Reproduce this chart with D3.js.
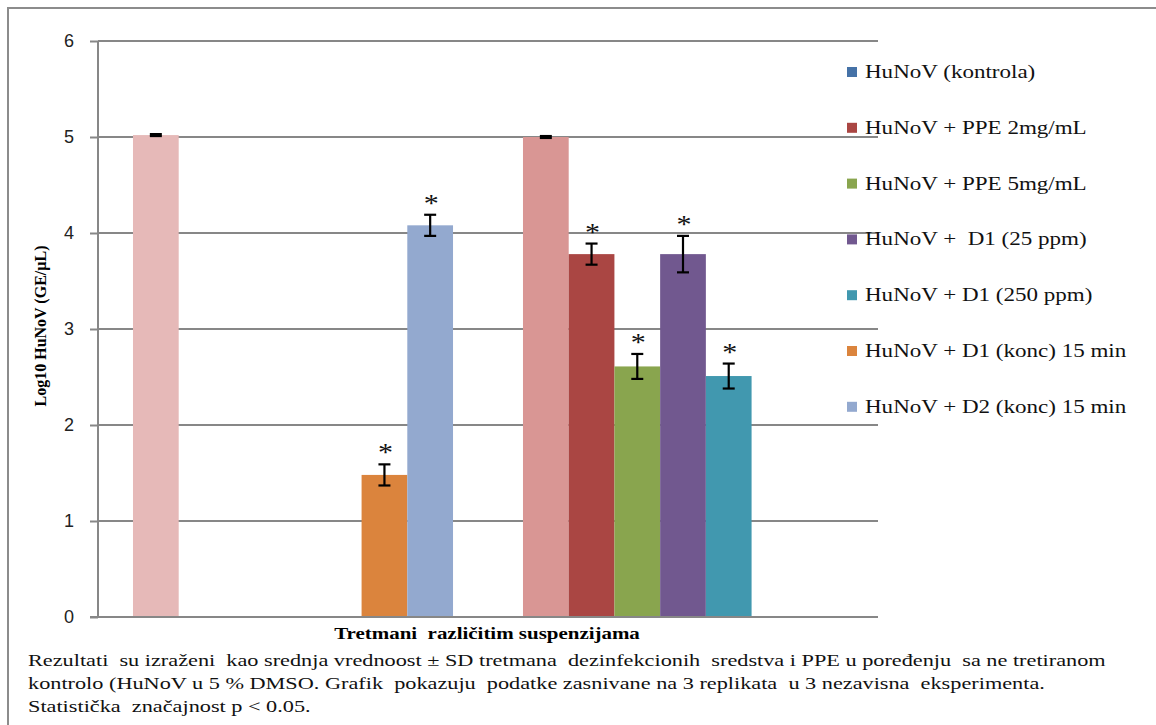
<!DOCTYPE html>
<html>
<head>
<meta charset="utf-8">
<script src="https://cdn.jsdelivr.net/npm/d3@7"></script>
<style>
  body { margin: 0; background: #fff; }
  svg { display: block; }
</style>
</head>
<body>
<div id="chart"></div>
<script>
// Log10 HuNoV by treatment, two clusters of 7 series (Excel-style clustered bars)

const categories = ["grupa 1", "grupa 2"];
const seriesNames = [
    "HuNoV (kontrola)",
    "HuNoV + PPE 2mg/mL",
    "HuNoV + PPE 5mg/mL",
    "HuNoV +  D1 (25 ppm)",
    "HuNoV + D1 (250 ppm)",
    "HuNoV + D1 (konc) 15 min",
    "HuNoV + D2 (konc) 15 min"
];
// values per series, one per category (null = no bar)
const means = [
    [5.02, 5.00],
    [null, 3.78],
    [null, 2.61],
    [null, 3.78],
    [null, 2.51],
    [1.48, null],
    [4.08, null]
];
const sds = [
    [0.01, 0.01],
    [null, 0.11],
    [null, 0.13],
    [null, 0.19],
    [null, 0.13],
    [0.11, null],
    [0.11, null]
];
const significant = [
    [false, false],
    [false, true],
    [false, true],
    [false, true],
    [false, true],
    [true, false],
    [true, false]
];
const yTicks = [0, 1, 2, 3, 4, 5, 6];

const yTitle = "Log10 HuNoV (GE/µL)";
const xTitle = "Tretmani  različitim suspenzijama";
const notes = [
    "Rezultati  su izraženi  kao srednja vrednoost ± SD tretmana  dezinfekcionih  sredstva i PPE u poređenju  sa ne tretiranom",
    "kontrolo (HuNoV u 5 % DMSO. Grafik  pokazuju  podatke zasnivane na 3 replikata  u 3 nezavisna  eksperimenta.",
    "Statistička  značajnost p < 0.05."
];

const legendColors = ["#4572A7", "#AA4643", "#89A54E", "#71588F", "#4198AF", "#DB843D", "#93A9CF"];
const controlColors = ["#E6B9B8", "#D99694"]; // control bars recoloured per cluster

const W = 1156, H = 725;
const plot = {left: 98, right: 878, top: 41, bottom: 617};
const serif = "'Liberation Serif', 'Times New Roman', serif";
const stretch = 1.31; // the source picture is widened horizontally

const svg = d3.select("#chart")
    .append("svg")
    .attr("width", W)
    .attr("height", H);

// outer frame (top + left edge only visible)
svg.append("path")
    .attr("d", `M8,${H} L8,8 L${W},8`)
    .attr("fill", "none")
    .attr("stroke", "#8c8c8c")
    .attr("stroke-width", 2);

// Scales
const x0 = d3.scaleBand()
    .domain(categories)
    .range([plot.left, plot.right]);

const x1 = d3.scaleBand()
    .domain(seriesNames)
    .range([0, x0.bandwidth()])
    .paddingInner(0)
    .paddingOuter(0.765);

const y = d3.scaleLinear()
    .domain([0, 6])
    .range([plot.bottom, plot.top]);

// Gridlines
svg.append("g")
    .selectAll("line")
    .data(yTicks.filter(t => t > 0))
    .enter()
    .append("line")
    .attr("x1", plot.left)
    .attr("x2", plot.right)
    .attr("y1", d => y(d))
    .attr("y2", d => y(d))
    .attr("stroke", "#878787")
    .attr("stroke-width", 2);

// Bars
const barData = [];
seriesNames.forEach((s, si) => {
    categories.forEach((c, ci) => {
        const v = means[si][ci];
        if (v == null) return;
        barData.push({
            series: s, cat: c, value: v, sd: sds[si][ci], sig: significant[si][ci],
            color: si === 0 ? controlColors[ci] : legendColors[si]
        });
    });
});

const bx = d => x0(d.cat) + x1(d.series);

svg.append("g")
    .selectAll("rect")
    .data(barData)
    .enter()
    .append("rect")
    .attr("x", bx)
    .attr("y", d => y(d.value))
    .attr("width", x1.bandwidth())
    .attr("height", d => y(0) - y(d.value))
    .attr("fill", d => d.color);

// Error bars
const err = svg.append("g")
    .selectAll("g")
    .data(barData)
    .enter()
    .append("g")
    .attr("stroke", "#000")
    .attr("stroke-width", 2.2);

const cx = d => bx(d) + x1.bandwidth() / 2;

err.append("line")
    .attr("x1", cx).attr("x2", cx)
    .attr("y1", d => y(d.value + d.sd))
    .attr("y2", d => y(d.value - d.sd));
err.append("line")
    .attr("x1", d => cx(d) - 6).attr("x2", d => cx(d) + 6)
    .attr("y1", d => y(d.value + d.sd))
    .attr("y2", d => y(d.value + d.sd));
err.append("line")
    .attr("x1", d => cx(d) - 6).attr("x2", d => cx(d) + 6)
    .attr("y1", d => y(d.value - d.sd))
    .attr("y2", d => y(d.value - d.sd));

// Significance stars
svg.append("g")
    .selectAll("text")
    .data(barData.filter(d => d.sig))
    .enter()
    .append("text")
    .attr("transform", d => `translate(${cx(d) + 1},${y(d.value + d.sd) - 3}) scale(1.2,1)`)
    .attr("text-anchor", "middle")
    .style("font-family", serif)
    .style("font-size", "25px")
    .style("fill", "#111")
    .text("*");

// Axes
const yAxis = svg.append("g")
    .attr("transform", `translate(${plot.left},0)`)
    .call(d3.axisLeft(y).tickValues(yTicks).tickSize(8).tickPadding(16).tickFormat(d3.format("d")));
yAxis.select(".domain").remove();
yAxis.selectAll(".tick line").attr("stroke", "#878787").attr("stroke-width", 2);
yAxis.selectAll(".tick text")
    .style("font-family", "'Liberation Sans', Arial, sans-serif")
    .style("font-size", "18px")
    .style("fill", "#222");

svg.append("line")
    .attr("x1", plot.left).attr("x2", plot.left)
    .attr("y1", y(6)).attr("y2", y(0))
    .attr("stroke", "#878787").attr("stroke-width", 2);
svg.append("line")
    .attr("x1", plot.left - 8).attr("x2", plot.right)
    .attr("y1", y(0)).attr("y2", y(0))
    .attr("stroke", "#878787").attr("stroke-width", 2);

// Axis titles
svg.append("text")
    .attr("transform", `translate(46,${(plot.top + plot.bottom) / 2 - 3}) rotate(-90)`)
    .attr("text-anchor", "middle")
    .style("font-family", serif)
    .style("font-weight", "bold")
    .style("font-size", "16px")
    .text(yTitle);

svg.append("text")
    .attr("transform", `translate(${(plot.left + plot.right) / 2 - 1},639) scale(${stretch},1)`)
    .attr("text-anchor", "middle")
    .style("font-family", serif)
    .style("font-weight", "bold")
    .style("font-size", "16px")
    .style("white-space", "pre")
    .text(xTitle);

// Legend
const legend = svg.append("g")
    .selectAll("g")
    .data(seriesNames)
    .enter()
    .append("g")
    .attr("transform", (d, i) => `translate(847,${72 + i * 55.8})`);

legend.append("rect")
    .attr("x", 0)
    .attr("y", -5)
    .attr("width", 10)
    .attr("height", 10)
    .attr("fill", (d, i) => legendColors[i]);

legend.append("text")
    .attr("transform", "translate(18,6) scale(1.28,1)")
    .style("font-family", serif)
    .style("font-size", "18px")
    .style("fill", "#111")
    .style("white-space", "pre")
    .text(d => d);

// Caption
svg.append("g")
    .selectAll("text")
    .data(notes)
    .enter()
    .append("text")
    .attr("transform", (d, i) => `translate(28,${666 + i * 23}) scale(${stretch},1)`)
    .style("font-family", serif)
    .style("font-size", "17px")
    .style("fill", "#111")
    .style("white-space", "pre")
    .text(d => d);
</script>
</body>
</html>
